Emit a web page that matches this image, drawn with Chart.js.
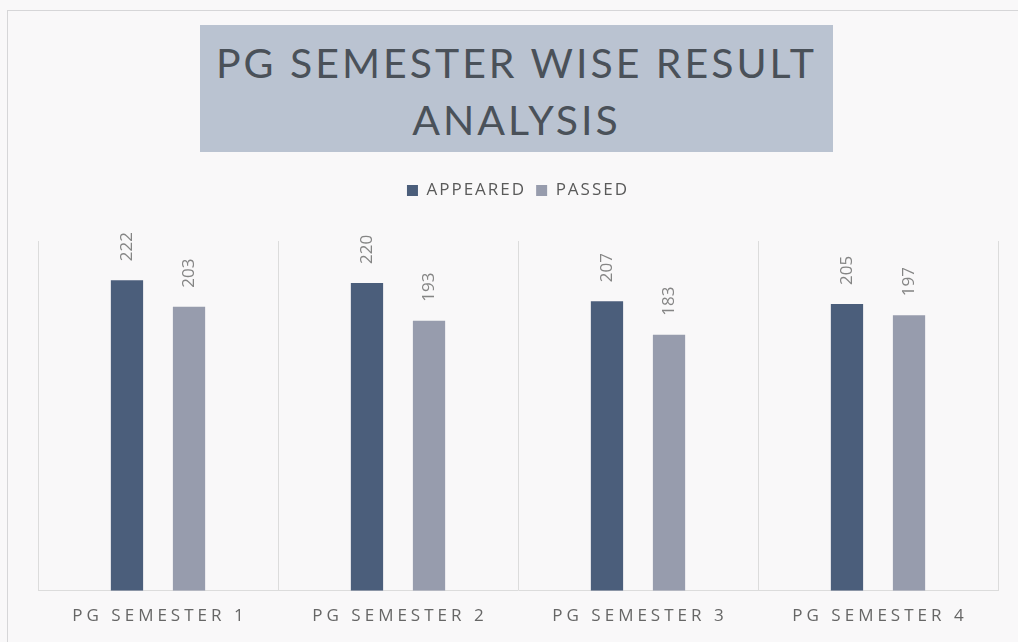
<!DOCTYPE html>
<html>
<head>
<meta charset="utf-8">
<script src="https://cdn.jsdelivr.net/npm/chart.js@4/dist/chart.umd.min.js"></script>
<style>
  html, body { margin: 0; padding: 0; background: #f9f8f9; overflow: hidden; }
  #wrap { position: relative; width: 1018px; height: 642px; overflow: hidden; }
  #frame {
    position: absolute; left: 7px; top: 10px; width: 1100px; height: 700px;
    border-left: 1px solid #d6d6d8; border-top: 1px solid #d6d6d8;
  }
  #title {
    position: absolute; left: 200px; top: 25px; width: 633px; height: 127px;
    background: #bac3d1; color: #4a5159;
    font-family: Lato, 'Open Sans', sans-serif; font-size: 41px; letter-spacing: 3px;
    text-align: center; line-height: 57px; padding-top: 9px; box-sizing: border-box;
  }
  canvas { position: absolute; left: 0; top: 0; }
</style>
</head>
<body>
<div id="wrap">
  <div id="frame"></div>
  <canvas id="resultChart" width="1018" height="642"></canvas>
  <div id="title">PG SEMESTER WISE RESULT<br>ANALYSIS</div>
</div>
<script>
// Chart data
const semesters = ['PG SEMESTER 1', 'PG SEMESTER 2', 'PG SEMESTER 3', 'PG SEMESTER 4'];
const appeared = [222, 220, 207, 205];
const passed = [203, 193, 183, 197];

const colors = {
  appeared: '#4b5e7b',
  passed: '#979cad',
  label: '#858585',
  axisText: '#666666',
  grid: '#dcdcdc'
};

// push the plot area down below the legend
const legendGap = {
  id: 'legendGap',
  beforeInit(chart) {
    const fit = chart.legend.fit;
    chart.legend.fit = function () {
      fit.call(this);
      this.height += 32;
    };
  },
  // wider legend text spacing
  beforeUpdate(chart) { chart.ctx.letterSpacing = '2px'; },
  beforeDraw(chart) { chart.ctx.letterSpacing = '2px'; }
};

// rotated value labels above each bar
const barLabels = {
  id: 'barLabels',
  afterDatasetsDraw(chart) {
    const ctx = chart.ctx;
    chart.data.datasets.forEach((ds, i) => {
      chart.getDatasetMeta(i).data.forEach((bar, j) => {
        ctx.save();
        ctx.letterSpacing = '0px';
        ctx.translate(bar.x, bar.y - 19);
        ctx.rotate(-Math.PI / 2);
        ctx.font = "17px 'Open Sans', sans-serif";
        ctx.fillStyle = colors.label;
        ctx.textAlign = 'left';
        ctx.textBaseline = 'middle';
        ctx.fillText(ds.data[j], 0, 0);
        ctx.restore();
      });
    });
  }
};

// category labels with letter spacing
const categoryLabels = {
  id: 'categoryLabels',
  afterDraw(chart) {
    const ctx = chart.ctx;
    const x = chart.scales.x;
    ctx.save();
    ctx.font = "17px 'Open Sans', sans-serif";
    ctx.letterSpacing = '4px';
    ctx.fillStyle = colors.axisText;
    ctx.textAlign = 'center';
    ctx.textBaseline = 'middle';
    semesters.forEach((s, i) => {
      ctx.fillText(s, x.getPixelForTick(i) + 2, x.top + 25);
    });
    ctx.restore();
  }
};

new Chart(document.getElementById('resultChart'), {
  type: 'bar',
  data: {
    labels: semesters,
    datasets: [
      { label: 'APPEARED', data: appeared, backgroundColor: colors.appeared },
      { label: 'PASSED', data: passed, backgroundColor: colors.passed }
    ]
  },
  options: {
    responsive: false,
    animation: false,
    layout: { padding: { top: 172, left: 38, right: 20, bottom: 28 } },
    datasets: { bar: { barPercentage: 0.52, categoryPercentage: 0.517 } },
    plugins: {
      title: { display: false },
      tooltip: { enabled: false },
      legend: {
        labels: {
          boxWidth: 11, boxHeight: 11, padding: 10,
          color: '#5a5a5a',
          font: { family: "'Open Sans', sans-serif", size: 17 }
        }
      }
    },
    scales: {
      x: {
        grid: { display: true, offset: true, color: colors.grid, drawTicks: false },
        border: { color: colors.grid },
        ticks: { color: 'rgba(0,0,0,0)', font: { size: 16 }, padding: 2 }
      },
      y: {
        display: false,
        min: 0,
        max: 250
      }
    }
  },
  plugins: [legendGap, barLabels, categoryLabels]
});
</script>
</body>
</html>
